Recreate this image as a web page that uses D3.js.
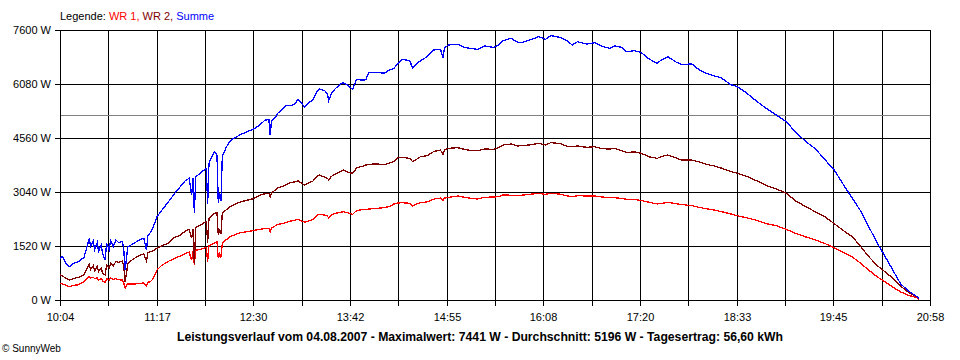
<!DOCTYPE html>
<html>
<head>
<meta charset="utf-8">
<script src="https://cdn.jsdelivr.net/npm/d3@7"></script>
<style>
  html, body { margin: 0; padding: 0; background: #fff; }
  svg { display: block; }
  text { font-family: "Liberation Sans", Arial, sans-serif; }
</style>
</head>
<body>
<svg id="chart" width="960" height="360"></svg>
<script>
// ---------- data ----------
const times = [
  "10:04","10:06","10:08","10:11","10:14","10:18","10:22","10:24","10:26","10:27",
  "10:29","10:30","10:32","10:33","10:35","10:36","10:38","10:39","10:41","10:42",
  "10:44","10:46","10:48","10:51","10:52","10:53","10:54","10:55","10:59","11:03",
  "11:07","11:09","11:10","11:12","11:14","11:17","11:20","11:25","11:30","11:34",
  "11:38","11:41","11:43","11:44","11:45","11:46","11:49","11:52","11:54","11:55",
  "11:56","11:58","12:00","12:02","12:03","12:04","12:05","12:06","12:09","12:12",
  "12:15","12:20","12:25","12:30","12:34","12:38","12:41","12:42","12:43","12:46",
  "12:48","12:50","12:54","12:57","13:00","13:03","13:06","13:08","13:11","13:14",
  "13:17","13:19","13:23","13:25","13:26","13:28","13:31","13:35","13:37","13:40",
  "13:44","13:47","13:51","13:54","13:56","14:02","14:08","14:12","14:15","14:18",
  "14:21","14:27","14:29","14:32","14:35","14:40","14:45","14:50","14:52","14:53",
  "14:56","15:03","15:08","15:13","15:18","15:23","15:30","15:34","15:37","15:43",
  "15:48","15:51","15:57","16:04","16:09","16:13","16:20","16:25","16:29","16:33",
  "16:40","16:46","16:51","16:57","17:01","17:06","17:10","17:16","17:21","17:27",
  "17:33","17:36","17:41","17:47","17:51","17:59","18:04","18:10","18:16","18:21",
  "18:28","18:33","18:40","18:48","18:55","19:03","19:10","19:17","19:25","19:32",
  "19:39","19:46","19:53","20:00","20:06","20:12","20:18","20:24","20:30","20:36",
  "20:42","20:48","20:50"
];
const wr1 = [
  469,450,420,375,410,430,516,600,660,620,
  640,600,630,560,600,540,500,600,560,620,
  580,600,570,563,470,328,420,450,450,460,
  480,400,500,516,600,850,960,1080,1170,1230,
  1300,1350,1126,1370,1000,1400,1420,1450,1480,1079,
  1520,1560,1600,1640,1173,1300,1200,1595,1700,1780,
  1830,1900,1924,1960,1989,2010,2017,1920,2030,2090,
  2130,2140,2180,2220,2240,2271,2220,2186,2230,2260,
  2380,2411,2390,2365,2300,2400,2440,2470,2486,2460,
  2411,2520,2540,2552,2560,2580,2600,2640,2702,2730,
  2740,2721,2646,2700,2740,2760,2840,2870,2800,2870,
  2890,2927,2890,2860,2843,2890,2900,2908,2956,2950,
  2937,2950,2974,3003,2974,3003,2980,2930,2908,2937,
  2927,2927,2900,2885,2880,2860,2833,2833,2800,2750,
  2702,2720,2749,2710,2690,2655,2608,2570,2530,2490,
  2425,2375,2315,2238,2150,2085,1990,1877,1770,1690,
  1590,1470,1330,1200,1030,840,660,516,364,225,
  130,70,10
];
const wr2 = [
  704,676,620,563,600,640,704,880,1000,860,
  960,820,950,800,900,760,704,980,900,1032,
  960,1079,1060,1098,900,516,760,1032,1150,1240,
  1300,1100,1330,1360,1390,1455,1520,1595,1760,1820,
  1930,1990,1737,2010,1000,2050,2090,2170,2200,1595,
  2300,2380,2440,2460,1830,2000,1850,2440,2540,2627,
  2690,2767,2810,2860,2950,2990,3003,2900,3010,3100,
  3162,3180,3240,3300,3320,3350,3280,3237,3300,3340,
  3480,3518,3460,3425,3380,3480,3547,3620,3660,3600,
  3565,3720,3760,3800,3820,3828,3810,3860,3893,4010,
  4015,3987,3893,3960,4034,4060,4180,4220,4100,4230,
  4269,4288,4240,4210,4203,4250,4241,4297,4363,4391,
  4335,4350,4363,4410,4363,4430,4400,4330,4316,4335,
  4297,4316,4260,4250,4269,4203,4156,4166,4130,4030,
  3987,4040,4081,4000,3940,3940,3893,3818,3771,3715,
  3620,3570,3485,3350,3220,3120,3003,2790,2620,2480,
  2340,2150,1950,1770,1500,1220,980,797,615,390,
  210,100,20
];
const summe = [
  1174,1230,1050,938,1033,1080,1200,1455,1737,1500,
  1650,1420,1620,1370,1550,1300,1126,1600,1420,1680,
  1500,1690,1620,1650,1370,844,1200,1500,1580,1680,
  1737,1407,1800,1900,2050,2350,2500,2740,2990,3170,
  3350,3425,2956,3440,2440,3460,3560,3650,3700,2702,
  3850,4020,4175,4081,2722,3000,2800,4034,4300,4480,
  4560,4660,4740,4820,4920,5060,5080,4645,5050,5150,
  5272,5320,5470,5470,5500,5649,5520,5423,5560,5630,
  5860,5940,5892,5800,5611,5818,5950,6080,6117,6052,
  5931,6212,6190,6200,6398,6398,6390,6480,6521,6662,
  6775,6736,6521,6650,6736,6849,7037,7060,6803,7100,
  7178,7196,7112,7080,7056,7150,7112,7178,7300,7365,
  7260,7243,7318,7412,7337,7441,7393,7300,7178,7271,
  7206,7243,7150,7084,7150,7112,6990,7019,6962,6780,
  6662,6756,6849,6700,6630,6643,6493,6380,6305,6255,
  6065,6010,5830,5585,5390,5190,5019,4720,4450,4250,
  3950,3660,3240,2840,2500,2060,1630,1240,845,450,
  250,100,20
];
const yTickValues = [0, 1520, 3040, 4560, 6080, 7600];
const xTickLabels = ["10:04","11:17","12:30","13:42","14:55","16:08","17:20","18:33","19:45","20:58"];
const averageValue = 5196;
const legendTitle = "Legende: ";
const legendNames = ["WR 1, ", "WR 2, ", "Summe"];
const seriesColors = ["#ff0000", "#800000", "#0000ff"];
const captionText = "Leistungsverlauf vom 04.08.2007 - Maximalwert: 7441 W - Durchschnitt: 5196 W - Tagesertrag: 56,60 kWh";
const creditText = "\u00a9 SunnyWeb";

(function draw() {
  const toMin = s => { const [h, m] = s.split(":").map(Number); return h * 60 + m; };
  const svg = d3.select("#chart");
  const plotLeft = 60, plotRight = 930, plotTop = 30, plotBottom = 300;

  const x = d3.scaleLinear()
    .domain([toMin(xTickLabels[0]), toMin(xTickLabels[xTickLabels.length - 1])])
    .range([plotLeft, plotRight]);
  const y = d3.scaleLinear().domain([0, 7600]).range([plotBottom, plotTop]);

  svg.append("rect").attr("width", 960).attr("height", 360).attr("fill", "#fff");

  const d0 = x.domain()[0], d1 = x.domain()[1];
  const nGrid = (xTickLabels.length - 1) * 2;
  const gridTimes = d3.range(nGrid + 1).map(i => d0 + i * (d1 - d0) / nGrid);
  const px = v => Math.round(x(v)) + 0.5;
  const py = v => Math.round(y(v)) + 0.5;

  const g = svg.append("g").attr("shape-rendering", "crispEdges");

  g.selectAll(".vg").data(gridTimes).enter().append("line")
    .attr("x1", d => px(d)).attr("x2", d => px(d))
    .attr("y1", plotTop).attr("y2", plotBottom + 6)
    .attr("stroke", "#000").attr("stroke-width", 1);

  g.selectAll(".hg").data(yTickValues).enter().append("line")
    .attr("x1", plotLeft - 5).attr("x2", plotRight + 1)
    .attr("y1", d => py(d)).attr("y2", d => py(d))
    .attr("stroke", "#000").attr("stroke-width", 1);

  g.append("line")
    .attr("x1", plotLeft + 1).attr("x2", plotRight)
    .attr("y1", py(averageValue)).attr("y2", py(averageValue))
    .attr("stroke", "#808080").attr("stroke-width", 1);

  svg.selectAll(".yl").data(yTickValues).enter().append("text")
    .attr("x", 51).attr("y", d => Math.round(y(d)) + 4)
    .attr("text-anchor", "end").attr("font-size", 11).attr("fill", "#000")
    .text(d => d + " W");

  svg.selectAll(".xl").data(xTickLabels).enter().append("text")
    .attr("x", (d, i) => px(gridTimes[i * 2]))
    .attr("y", 321)
    .attr("text-anchor", "middle").attr("font-size", 11).attr("fill", "#000")
    .text(d => d);

  const series = [wr1, wr2, summe];
  const line = d3.line().x(d => x(d[0])).y(d => y(d[1]));
  series.forEach((vals, si) => {
    const pts = times.map((t, i) => [toMin(t), vals[i]]);
    svg.append("path")
      .attr("d", line(pts))
      .attr("fill", "none")
      .attr("stroke", seriesColors[si])
      .attr("stroke-width", 1.3)
      .attr("shape-rendering", "crispEdges");
  });

  const leg = svg.append("text").attr("x", 60).attr("y", 20).attr("font-size", 11);
  leg.append("tspan").attr("fill", "#000").text(legendTitle);
  legendNames.forEach((n, i) => leg.append("tspan").attr("fill", seriesColors[i]).text(n));

  const cap = svg.append("text")
    .attr("x", 480).attr("y", 341)
    .attr("text-anchor", "middle")
    .attr("font-size", 12).attr("font-weight", "bold").attr("fill", "#000")
    .text(captionText);
  const w = cap.node().getComputedTextLength();
  if (Math.abs(w - 606) > 4) cap.attr("textLength", 606).attr("lengthAdjust", "spacingAndGlyphs");

  svg.append("text").attr("x", 2).attr("y", 352).attr("font-size", 10).attr("fill", "#000").text(creditText);
})();
</script>
</body>
</html>
